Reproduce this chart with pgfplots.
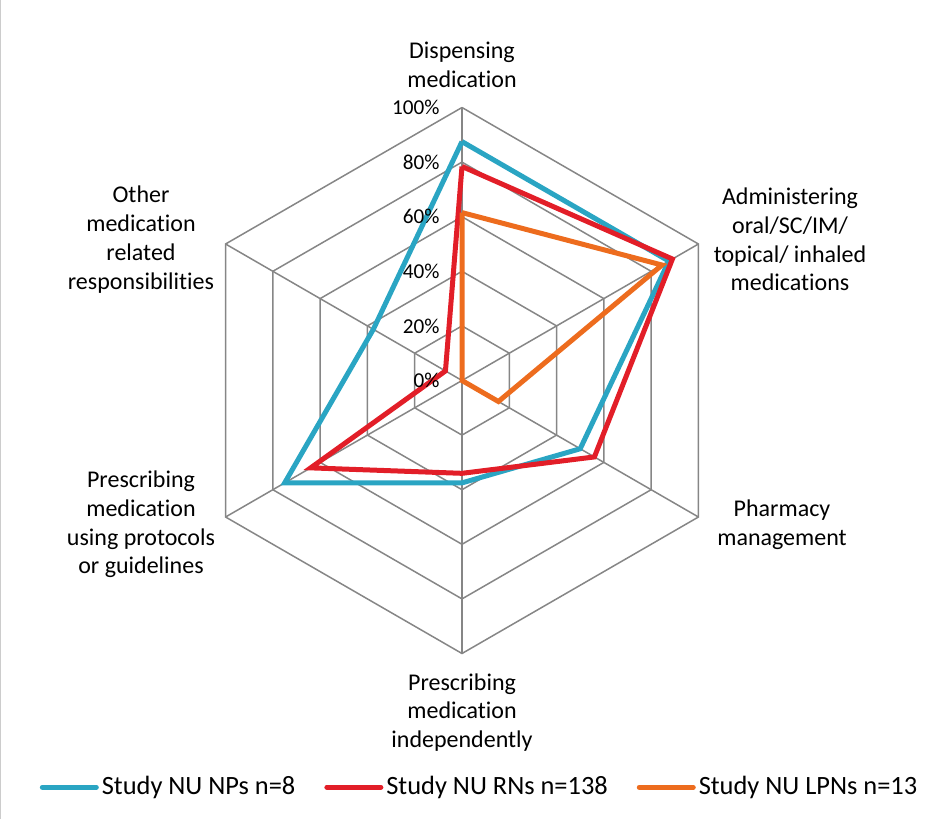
\documentclass[border=0pt]{standalone}
\usepackage{fontspec}
\setmainfont[Ligatures=NoCommon]{Carlito}
\usepackage{pgfplots}
\pgfplotsset{compat=1.18}
\usepgfplotslibrary{polar}

\definecolor{npblue}{RGB}{42,165,195}
\definecolor{rnred}{RGB}{226,30,40}
\definecolor{lpnorange}{RGB}{237,108,30}
\definecolor{gridgray}{RGB}{134,134,134}

\begin{document}
\begin{tikzpicture}
\begin{polaraxis}[
  width=273pt, height=273pt, scale only axis,
  xmin=0, xmax=360, ymin=0, ymax=100,
  hide axis, clip=false,
  legend columns=3,
  legend style={draw=none, fill=none, at={(0.533,-0.245)}, anchor=center,
    font=\fontsize{13.2}{15}\selectfont,
    nodes={inner xsep=1.5pt},
    /tikz/every even column/.append style={column sep=13pt},
    inner sep=0pt},
  legend image code/.code={\draw[#1, line cap=round] (0pt,0pt) -- (27pt,0pt);},
  every axis plot/.append style={line width=2.5pt, line join=miter},
]
% hexagonal grid rings
\addplot[gridgray, line width=0.75pt, forget plot] coordinates {(90,20)(30,20)(-30,20)(-90,20)(-150,20)(150,20)(90,20)};
\addplot[gridgray, line width=0.75pt, forget plot] coordinates {(90,40)(30,40)(-30,40)(-90,40)(-150,40)(150,40)(90,40)};
\addplot[gridgray, line width=0.75pt, forget plot] coordinates {(90,60)(30,60)(-30,60)(-90,60)(-150,60)(150,60)(90,60)};
\addplot[gridgray, line width=0.75pt, forget plot] coordinates {(90,80)(30,80)(-30,80)(-90,80)(-150,80)(150,80)(90,80)};
\addplot[gridgray, line width=0.75pt, forget plot] coordinates {(90,100)(30,100)(-30,100)(-90,100)(-150,100)(150,100)(90,100)};
% spokes
\addplot[gridgray, line width=0.75pt, forget plot] coordinates {(90,0)(90,100)};
\addplot[gridgray, line width=0.75pt, forget plot] coordinates {(30,0)(30,100)};
\addplot[gridgray, line width=0.75pt, forget plot] coordinates {(-30,0)(-30,100)};
\addplot[gridgray, line width=0.75pt, forget plot] coordinates {(-90,0)(-90,100)};
\addplot[gridgray, line width=0.75pt, forget plot] coordinates {(-150,0)(-150,100)};
\addplot[gridgray, line width=0.75pt, forget plot] coordinates {(150,0)(150,100)};

% series: angle = category, radius = percent
\addplot[npblue] coordinates {(90,87.5)(30,87.5)(-30,50)(-90,37.5)(-150,75)(150,37.5)(90,87.5)};
\addlegendentry{Study NU NPs n=8}
\addplot[rnred] coordinates {(90,78.4)(30,89)(-30,56)(-90,34)(-150,64)(150,7)(90,78.4)};
\addlegendentry{Study NU RNs n=138}
\addplot[lpnorange] coordinates {(90,61.5)(30,84.6)(-30,15.4)(-90,0)(-150,0)(150,0)(90,61.5)};
\addlegendentry{Study NU LPNs n=13}

% radial tick labels
\pgfplotsinvokeforeach{0,20,40,60,80,100}{
  \node[anchor=east, xshift=-11pt, font=\fontsize{10.6}{12}\selectfont, inner sep=0pt] at (axis cs:90,#1) {#1\%};
}
\coordinate (c) at (axis cs:0,0);
\end{polaraxis}

\begin{scope}[every node/.style={align=center, font=\fontsize{12}{14.4}\selectfont}]
\node at ([shift={(0pt,158pt)}]c) {Dispensing\\medication};
\node at ([shift={(164pt,70.5pt)}]c) {Administering\\oral/SC/IM/\\topical/ inhaled\\medications};
\node at ([shift={(160pt,-72pt)}]c) {Pharmacy\\management};
\node at ([shift={(0pt,-166pt)}]c) {Prescribing\\medication\\independently};
\node at ([shift={(-160.5pt,-72pt)}]c) {Prescribing\\medication\\using protocols\\or guidelines};
\node at ([shift={(-160.5pt,70.5pt)}]c) {Other\\medication\\related\\responsibilities};
\end{scope}

% chart frame edge and page extent
\draw[gray!40, line width=0.5pt] ([shift={(-230.5pt,-219pt)}]c) -- ([shift={(-230.5pt,190pt)}]c);
\path ([shift={(-231pt,-219pt)}]c) rectangle ([shift={(239.5pt,190pt)}]c);
\end{tikzpicture}
\end{document}
